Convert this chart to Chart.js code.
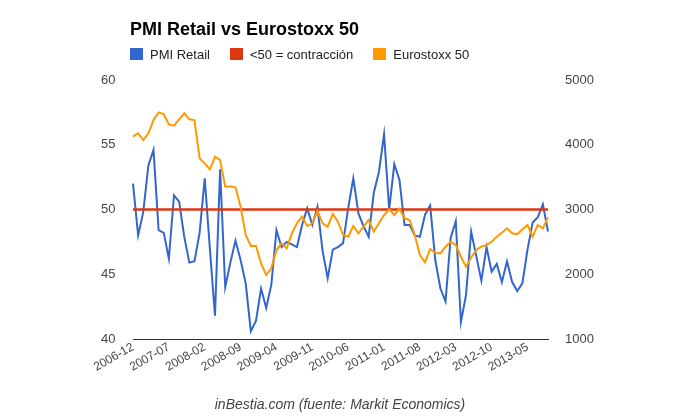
<!DOCTYPE html>
<html>
<head>
<meta charset="utf-8">
<title>PMI Retail vs Eurostoxx 50</title>
<script src="https://cdn.jsdelivr.net/npm/chart.js@4/dist/chart.umd.min.js"></script>
<style>
    html, body { margin: 0; padding: 0; background: #fff; }
    #wrap { position: relative; width: 680px; height: 420px; }
    #legend { position: absolute; left: 130px; top: 47px; margin: 0; padding: 0; list-style: none;
        font: 13px "Liberation Sans", Arial, sans-serif; color: #222; white-space: nowrap; }
    #legend li { display: inline-block; margin-right: 20px; line-height: 14px; }
    #legend .element { display: inline-block; width: 13px; height: 12px; vertical-align: -1px; margin-right: 7px; }
</style>
</head>
<body>
<div id="wrap">
    <canvas id="chart" width="680" height="420"></canvas>
    <ul id="legend"></ul>
</div>
<script>
// Monthly, 2006-12 .. 2013-09
var months = [
    '2006-12',
    '2007-01', '2007-02', '2007-03', '2007-04', '2007-05', '2007-06', '2007-07', '2007-08', '2007-09', '2007-10', '2007-11', '2007-12',
    '2008-01', '2008-02', '2008-03', '2008-04', '2008-05', '2008-06', '2008-07', '2008-08', '2008-09', '2008-10', '2008-11', '2008-12',
    '2009-01', '2009-02', '2009-03', '2009-04', '2009-05', '2009-06', '2009-07', '2009-08', '2009-09', '2009-10', '2009-11', '2009-12',
    '2010-01', '2010-02', '2010-03', '2010-04', '2010-05', '2010-06', '2010-07', '2010-08', '2010-09', '2010-10', '2010-11', '2010-12',
    '2011-01', '2011-02', '2011-03', '2011-04', '2011-05', '2011-06', '2011-07', '2011-08', '2011-09', '2011-10', '2011-11', '2011-12',
    '2012-01', '2012-02', '2012-03', '2012-04', '2012-05', '2012-06', '2012-07', '2012-08', '2012-09', '2012-10', '2012-11', '2012-12',
    '2013-01', '2013-02', '2013-03', '2013-04', '2013-05', '2013-06', '2013-07', '2013-08', '2013-09'
];

var pmiRetail = [
    52.0, 48.0, 49.8, 53.4, 54.6, 48.4, 48.2, 46.2, 51.1, 50.6, 47.9, 45.9, 46.0,
    48.2, 52.4, 47.0, 41.8, 53.1, 44.0, 45.9, 47.6, 46.1, 44.3, 40.6, 41.4,
    43.9, 42.4, 44.2, 48.4, 47.1, 47.5, 47.3, 47.1, 48.8, 50.1, 48.8, 50.2,
    46.8, 44.7, 46.9, 47.1, 47.4, 50.1, 52.4, 49.7, 48.7, 47.9, 51.3, 52.9,
    55.8, 50.0, 53.5, 52.3, 48.8, 48.8, 48.0, 47.9, 49.6, 50.3, 46.1, 43.9,
    42.9, 47.8, 49.1, 41.3, 43.4, 48.3, 46.4, 44.5, 47.1, 45.2, 45.8, 44.4,
    46.0, 44.4, 43.7, 44.3, 46.9, 49.0, 49.4, 50.4, 48.3
];

var eurostoxx = [
    4125, 4177, 4073, 4177, 4382, 4500, 4475, 4315, 4295, 4393, 4485, 4393, 4382,
    3790, 3713, 3620, 3816, 3764, 3352, 3357, 3342, 3043, 2606, 2436, 2436,
    2169, 1988, 2092, 2374, 2477, 2400, 2632, 2787, 2889, 2745, 2787, 2977,
    2787, 2735, 2930, 2812, 2606, 2580, 2745, 2632, 2735, 2838, 2658, 2787,
    2915, 3003, 2915, 3010, 2864, 2838, 2606, 2297, 2184, 2390, 2333, 2323,
    2426, 2503, 2451, 2271, 2117, 2260, 2374, 2426, 2452, 2503, 2580, 2642,
    2709, 2632, 2617, 2694, 2761, 2580, 2761, 2709, 2879
];

var contractionLevel = 50;
var leftRange = [40, 60];
var rightRange = [1000, 5000];
var leftStep = 5;
var rightStep = 1000;
var labelEvery = 7;

(function () {

    var font = '"Liberation Sans", Arial, sans-serif';
    var tickColor = '#444';

    var datasets = [
        {
            label: 'PMI Retail',
            data: pmiRetail,
            borderColor: '#3366cc',
            backgroundColor: '#3366cc',
            yAxisID: 'y',
            order: 3
        },
        {
            label: '<50 = contracción',
            data: months.map(function () { return contractionLevel; }),
            borderColor: '#dc3912',
            backgroundColor: '#dc3912',
            borderWidth: 2.5,
            yAxisID: 'y',
            order: 2
        },
        {
            label: 'Eurostoxx 50',
            data: eurostoxx,
            borderColor: '#ff9900',
            backgroundColor: '#ff9900',
            yAxisID: 'y1',
            order: 1
        }
    ];

    /**
     * Renders the html legend, the same look as the chart one.
     */
    function renderLegend(container, items) {
        var index, li, box, label;

        for (index = 0; index < items.length; index++) {
            box = document.createElement('span');
            box.className = 'element';
            box.style.backgroundColor = items[index].borderColor;

            label = document.createElement('span');
            label.textContent = items[index].label;

            li = document.createElement('li');
            li.appendChild(box);
            li.appendChild(label);
            container.appendChild(li);
        }
    }

    // keep the axis boxes at a fixed size so the plot sits where it should
    function fixWidth(w) {
        return function (scale) { scale.width = w; };
    }

    function plain(value) {
        return String(value);
    }

    new Chart(document.getElementById('chart'), {
        type: 'line',
        data: { labels: months, datasets: datasets },
        options: {
            responsive: false,
            animation: false,
            layout: { padding: { left: 130, right: 130, top: 0, bottom: 0 } },
            elements: {
                line: { borderWidth: 2, tension: 0 },
                point: { radius: 0, hoverRadius: 0 }
            },
            plugins: {
                legend: { display: false },
                tooltip: { enabled: false },
                title: {
                    display: true,
                    text: 'PMI Retail vs Eurostoxx 50',
                    align: 'start',
                    color: '#000',
                    font: { family: font, size: 18, weight: 'bold' },
                    padding: { top: 19, bottom: 39.4 }
                },
                subtitle: {
                    display: true,
                    position: 'bottom',
                    text: 'inBestia.com (fuente: Markit Economics)',
                    color: '#444',
                    font: { family: font, size: 14, style: 'italic' },
                    padding: { top: 13.6, bottom: 6.6 }
                }
            },
            scales: {
                x: {
                    offset: false,
                    grid: { display: false },
                    border: { display: true, color: '#333', width: 1 },
                    afterFit: function (scale) { scale.height = 44; },
                    ticks: {
                        autoSkip: false,
                        maxRotation: 30,
                        minRotation: 30,
                        padding: -7,
                        color: tickColor,
                        font: { family: font, size: 12 },
                        callback: function (value, index) {
                            return index % labelEvery === 0 ? this.getLabelForValue(value) : null;
                        }
                    }
                },
                // the axis boxes are thin, so the labels are mirrored out past them
                y: {
                    position: 'left',
                    min: leftRange[0],
                    max: leftRange[1],
                    grid: { display: false, drawTicks: false },
                    border: { display: false },
                    afterFit: fixWidth(3),
                    ticks: { stepSize: leftStep, mirror: true, padding: -32, color: tickColor, font: { family: font, size: 13 }, callback: plain }
                },
                y1: {
                    position: 'right',
                    min: rightRange[0],
                    max: rightRange[1],
                    grid: { display: false, drawTicks: false },
                    border: { display: false },
                    afterFit: fixWidth(2),
                    ticks: { stepSize: rightStep, mirror: true, padding: 46, color: tickColor, font: { family: font, size: 13 }, callback: plain }
                }
            }
        }
    });

    renderLegend(document.getElementById('legend'), datasets);

})();
</script>
</body>
</html>
